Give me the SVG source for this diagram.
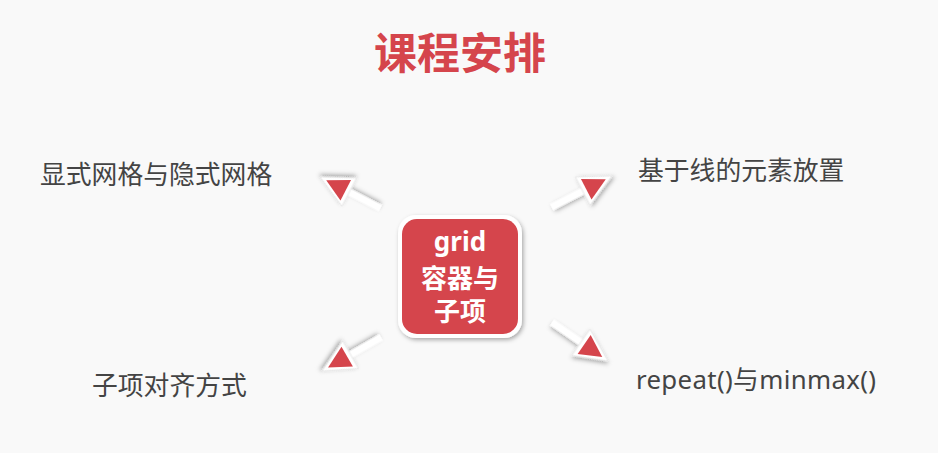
<svg xmlns="http://www.w3.org/2000/svg" width="938" height="453" viewBox="0 0 938 453">
<defs>
<style>
.lbl{font-family:"Noto Sans","Noto Sans CJK SC",sans-serif;font-size:25.8px;fill:#444444}
.ttl{font-family:"Noto Sans CJK SC",sans-serif;font-size:43px;font-weight:bold;fill:#d5454c}
.ntx{font-family:"Noto Sans","Noto Sans CJK SC",sans-serif;font-weight:bold;fill:#ffffff;text-anchor:middle;font-size:26px}
</style>
<filter id="sh" x="-30%" y="-30%" width="160%" height="160%">
<feDropShadow dx="1.5" dy="2" stdDeviation="2" flood-color="#000" flood-opacity="0.32"/>
</filter>
<g id="arw">
<g filter="url(#sh)">
<rect x="-68" y="-3.5" width="42" height="7" fill="#ffffff"/>
<polygon points="0,0 -33,-16 -33,16" fill="#ffffff" stroke="#e2e2e2" stroke-width="0.8" stroke-linejoin="round"/>
</g>
<polygon points="-7,0 -29,-11.5 -29,11.5" fill="#d5454c"/>
</g>
</defs>
<rect x="0" y="0" width="938" height="453" fill="#f9f9f9"/>
<text class="ttl" x="374" y="69">课程安排</text>
<g id="connectors">
<use href="#arw" transform="translate(320,177) rotate(207.3)"/>
<use href="#arw" transform="translate(612,176) rotate(-27.3)"/>
<use href="#arw" transform="translate(322,371) rotate(150.3)"/>
<use href="#arw" transform="translate(608,361) rotate(34.6)"/>
</g>
<g id="node-center">
<rect x="398" y="215" width="124" height="123" rx="18" fill="#ffffff" filter="url(#sh)"/>
<rect x="402" y="219" width="116" height="115" rx="15" fill="#d5454c"/>
<text class="ntx" x="460" y="251">grid</text>
<text class="ntx" x="460" y="288">容器与</text>
<text class="ntx" x="460" y="321">子项</text>
</g>
<g id="node-explicit"><text class="lbl" x="40" y="184">显式网格与隐式网格</text></g>
<g id="node-line"><text class="lbl" x="638" y="180">基于线的元素放置</text></g>
<g id="node-align"><text class="lbl" x="92" y="395">子项对齐方式</text></g>
<g id="node-repeat"><text class="lbl" x="636" y="389" textLength="240" lengthAdjust="spacing">repeat()与minmax()</text></g>
</svg>
